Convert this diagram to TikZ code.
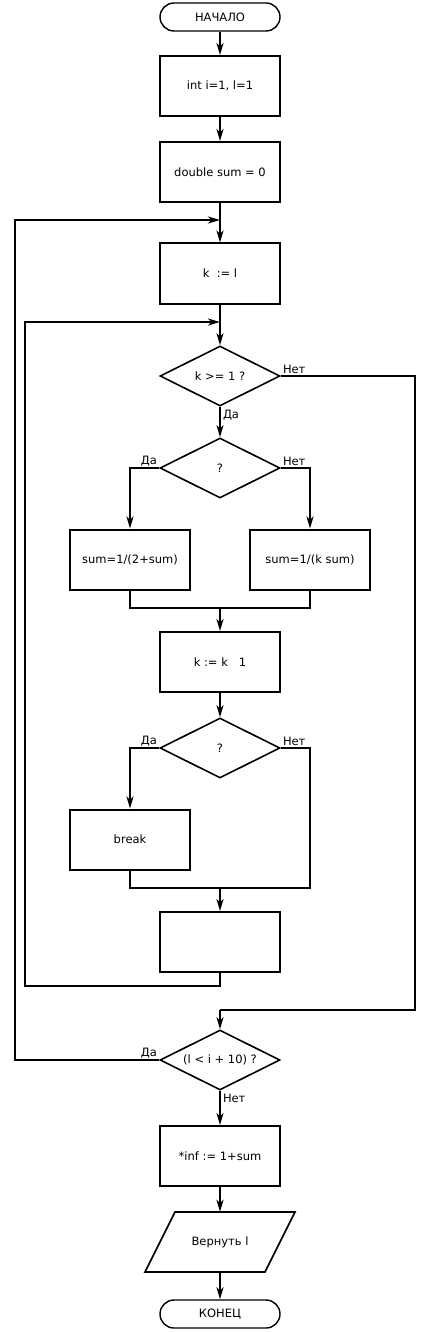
\documentclass[tikz,border=0pt]{standalone}
\usepackage{fontspec}
\setmainfont{DejaVu Sans}
\usetikzlibrary{arrows.meta,shapes.geometric}

\tikzset{
  block/.style={draw, line width=2pt, minimum width=120pt, minimum height=60pt, inner sep=0pt},
  term/.style={draw, line width=1.4pt, rounded corners=14pt, minimum width=120pt, minimum height=28pt, inner sep=0pt},
  cond/.style={draw, diamond, line width=1.6pt, minimum width=120pt, minimum height=60pt, inner sep=0pt},
  io/.style={minimum width=120pt, minimum height=60pt, inner sep=0pt},
  line/.style={line width=2pt},
  arr/.style={line, -{Stealth[length=12pt,width=7pt,inset=3.5pt]}},
  lbl/.style={inner sep=2pt}
}
\newcommand{\condtext}[1]{\makebox[0pt]{#1}}

\begin{document}
\begin{tikzpicture}[x=1pt, y=-1pt, font=\fontsize{11.5}{13}\selectfont]
\useasboundingbox (0,0) rectangle (440,1332);

% START
\node[term] (start) at (220,17) {НАЧАЛО};
\node[block] (init) at (220,86) {int i=1, l=1};
\node[block] (sum0) at (220,172) {double sum = 0};
\coordinate (j1) at (220,220);
\node[block] (kset) at (220,273.5) {k\ \ := l};
\coordinate (j2) at (220,322);

% OUTER CONDITION
\node[cond] (c1) at (220,376) {\condtext{k >= 1 ?}};

% FIRST BRANCH
\node[cond] (c2) at (220,468) {\condtext{?}};
\node[block] (b1) at (130,559.5) {sum=1/(2+sum)};
\node[block] (b2) at (310,559.5) {sum=1/(k sum)};
\coordinate (m1) at (220,608);
\node[block] (dec) at (220,662) {k := k \ \ 1};

% SECOND BRANCH
\node[cond] (c3) at (220,748) {\condtext{?}};
\node[block] (brk) at (130,839.5) {break};
\coordinate (m2) at (220,888);
\coordinate (m2r) at (310,888);
\node[block] (blank) at (220,942) {};
\coordinate (back1) at (220,986);
\coordinate (back2) at (25,986);

% EXIT
\coordinate (r1) at (415,376);
\coordinate (r2) at (415,1010);
\coordinate (r3) at (220,1010);
\node[cond] (c4) at (220,1060) {\condtext{(l < i + 10) ?}};
\coordinate (o1) at (15,1060);
\node[block] (res) at (220,1156) {*inf := 1+sum};
\node[io] (ret) at (220,1242) {Вернуть l};
\draw[line width=1.6pt, line join=miter] (ret.center) ++(-75,30) -- ++(30,-60) -- ++(120,0) -- ++(-30,60) -- cycle;
\node[term] (stop) at (220,1314) {КОНЕЦ};

% connectors
\draw[arr] (start) -- (init);
\draw[arr] (init) -- (sum0);
\draw[arr] (sum0) -- (kset);
\draw[arr] (kset) -- (c1);
\draw[arr] (c1) -- (c2) node[lbl, pos=0, anchor=north west] {Да};
\draw[line] (c1.east) -- (r1) -- (r2) -- (r3);
\node[lbl, anchor=south west] at (c1.east) {Нет};
\draw[arr] (r3) -- (c4);

\draw[arr] (c2.west) -| (b1.north);
\node[lbl, anchor=south east] at (c2.west) {Да};
\draw[arr] (c2.east) -| (b2.north);
\node[lbl, anchor=south west] at (c2.east) {Нет};
\draw[line] (b1.south) |- (m1) -| (b2.south);
\draw[arr] (m1) -- (dec);
\draw[arr] (dec) -- (c3);

\draw[arr] (c3.west) -| (brk.north);
\node[lbl, anchor=south east] at (c3.west) {Да};
\draw[line] (c3.east) -| (m2r) -- (m2);
\node[lbl, anchor=south west] at (c3.east) {Нет};
\draw[line] (brk.south) |- (m2);
\draw[arr] (m2) -- (blank);
\draw[arr] (blank.south) -- (back1) -- (back2) |- (j2);

\draw[arr] (c4.west) -- (o1) |- (j1);
\node[lbl, anchor=south east] at (c4.west) {Да};
\draw[arr] (c4) -- (res) node[lbl, pos=0, anchor=north west] {Нет};
\draw[arr] (res) -- (ret);
\draw[arr] (ret) -- (stop);
\end{tikzpicture}
\end{document}
